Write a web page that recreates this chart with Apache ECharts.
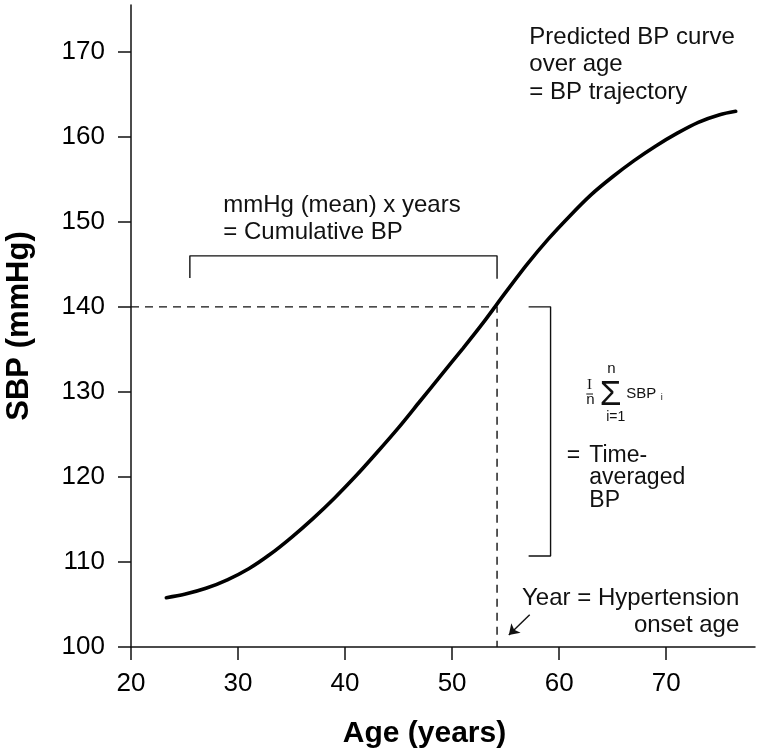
<!DOCTYPE html>
<html>
<head>
<meta charset="utf-8">
<script src="https://cdn.jsdelivr.net/npm/echarts@6/dist/echarts.min.js"></script>
<style>
  html, body { margin: 0; padding: 0; background: #fff; }
  #chart { width: 760px; height: 756px; }
</style>
</head>
<body>
<div id="chart"></div>
<script>
// ---- data ----
const ageYears = [23.3, 25, 27, 29, 31, 33, 35, 37, 39, 41, 43, 45, 47, 49, 51, 53, 55, 57, 59, 61, 63, 65, 67, 69, 71, 73, 75, 76.5];
const sbpValues = [105.8, 106.2, 106.9, 107.9, 109.2, 110.9, 112.9, 115.1, 117.5, 120.1, 122.9, 125.8, 128.9, 132.0, 135.1, 138.3, 141.7, 145.0, 148.0, 150.7, 153.2, 155.3, 157.2, 158.9, 160.4, 161.7, 162.6, 163.0];
const xTicks = [20, 30, 40, 50, 60, 70];
const yTicks = [100, 110, 120, 130, 140, 150, 160, 170];
const onsetAge = 54.2;
const onsetSBP = 140;
const guideLine = [[20, 140], [54.2, 140], [54.2, 100]];
const cumulativeBracket = [[25.5, 143.4], [25.5, 146], [54.2, 146], [54.2, 143.3]];
const averagedBracket = [[57.15, 140], [59.2, 140], [59.2, 110.7], [57.15, 110.7]];
const onsetArrow = [[57.25, 103.8], [55.3, 101.4]];

const FONT = '"Liberation Sans", Arial, Helvetica, sans-serif';
const INK = '#111';

const chart = echarts.init(document.getElementById('chart'), null, { renderer: 'canvas' });

function txt(text, x, y, size, opts) {
  opts = opts || {};
  return {
    type: 'text', x: x, y: y, silent: true,
    style: {
      text: text,
      fill: INK,
      font: (opts.weight || 'normal') + ' ' + size + 'px ' + (opts.family || FONT),
      align: opts.align || 'left',
      verticalAlign: opts.va || 'top',
      lineHeight: opts.lh || size
    }
  };
}

const option = {
  animation: false,
  backgroundColor: '#fff',
  grid: { left: 131, right: 5, top: 5, bottom: 109, containLabel: false, outerBoundsMode: 'none' },
  xAxis: {
    type: 'value', min: 20, max: 78.3,
    name: 'Age (years)', nameLocation: 'middle', nameGap: 72,
    nameTextStyle: { fontFamily: FONT, fontWeight: 'bold', fontSize: 30, color: '#000', padding: [0, 37, 0, 0] },
    axisLine: { show: true, onZero: false, lineStyle: { color: INK, width: 1.5 } },
    axisTick: { show: true, inside: false, length: 13, customValues: xTicks, lineStyle: { color: INK, width: 1.5 } },
    axisLabel: { customValues: xTicks, fontFamily: FONT, fontSize: 26, color: '#000', margin: 24 },
    splitLine: { show: false }
  },
  yAxis: {
    type: 'value', min: 100, max: 175.5,
    name: 'SBP (mmHg)', nameLocation: 'middle', nameGap: 96, nameRotate: 90,
    nameTextStyle: { fontFamily: FONT, fontWeight: 'bold', fontSize: 31, color: '#000' },
    axisLine: { show: true, onZero: false, lineStyle: { color: INK, width: 1.5 } },
    axisTick: { show: true, inside: false, length: 13, customValues: yTicks, lineStyle: { color: INK, width: 1.5 } },
    axisLabel: { customValues: yTicks, fontFamily: FONT, fontSize: 26, color: '#000', margin: 26 },
    splitLine: { show: false }
  },
  series: [
    {
      name: 'guide', type: 'line', silent: true, symbol: 'none',
      data: guideLine,
      lineStyle: { color: INK, width: 1.4, type: [8, 6] }
    },
    {
      name: 'cumulative', type: 'line', silent: true, symbol: 'none',
      data: cumulativeBracket,
      lineStyle: { color: INK, width: 1.4 }
    },
    {
      name: 'averaged', type: 'line', silent: true, symbol: 'none',
      data: averagedBracket,
      lineStyle: { color: INK, width: 1.4 }
    },
    {
      name: 'arrow', type: 'line', silent: true, symbol: 'none', data: [],
      markLine: {
        silent: true, animation: false,
        symbol: ['none', 'arrow'], symbolSize: 10,
        label: { show: false },
        lineStyle: { color: INK, width: 1.4, type: 'solid' },
        data: [[{ coord: onsetArrow[0] }, { coord: onsetArrow[1] }]]
      }
    },
    {
      name: 'BP trajectory', type: 'line', silent: true, symbol: 'none', smooth: 0.3,
      data: ageYears.map((a, i) => [a, sbpValues[i]]),
      lineStyle: { color: '#000', width: 3.6, cap: 'round' }
    }
  ],
  graphic: [
    txt('Predicted BP curve\nover age\n= BP trajectory', 529.3, 23.4, 24, { lh: 27.5 }),
    txt('mmHg (mean) x years\n= Cumulative BP', 223.3, 192.2, 24, { lh: 26.7 }),
    txt('=', 566.7, 444, 23, { lh: 22.5 }),
    txt('Time-\naveraged\nBP', 589.3, 444, 23, { lh: 22.5 }),
    txt('Year = Hypertension\nonset age', 739.3, 584.9, 24, { lh: 26.7, align: 'right' }),
    // formula  (1/n) Σ SBP_i
    txt('I', 589.6, 385.4, 15, { family: '"Liberation Serif", "Times New Roman", serif', align: 'center', va: 'middle' }),
    { type: 'line', silent: true, shape: { x1: 586.3, y1: 394, x2: 593, y2: 394 }, style: { stroke: INK, lineWidth: 1 } },
    txt('n', 590.3, 399.6, 15, { align: 'center', va: 'middle' }),
    txt('n', 611.3, 368.8, 15, { align: 'center', va: 'middle' }),
    txt('Σ', 610.5, 394.9, 35, { align: 'center', va: 'middle' }),
    txt('i=1', 615.8, 416.9, 14, { align: 'center', va: 'middle' }),
    txt('SBP', 626.3, 393.5, 15, { va: 'middle' }),
    txt('i', 660.7, 397.9, 9, { va: 'middle' })
  ]
};

chart.setOption(option);
</script>
</body>
</html>
